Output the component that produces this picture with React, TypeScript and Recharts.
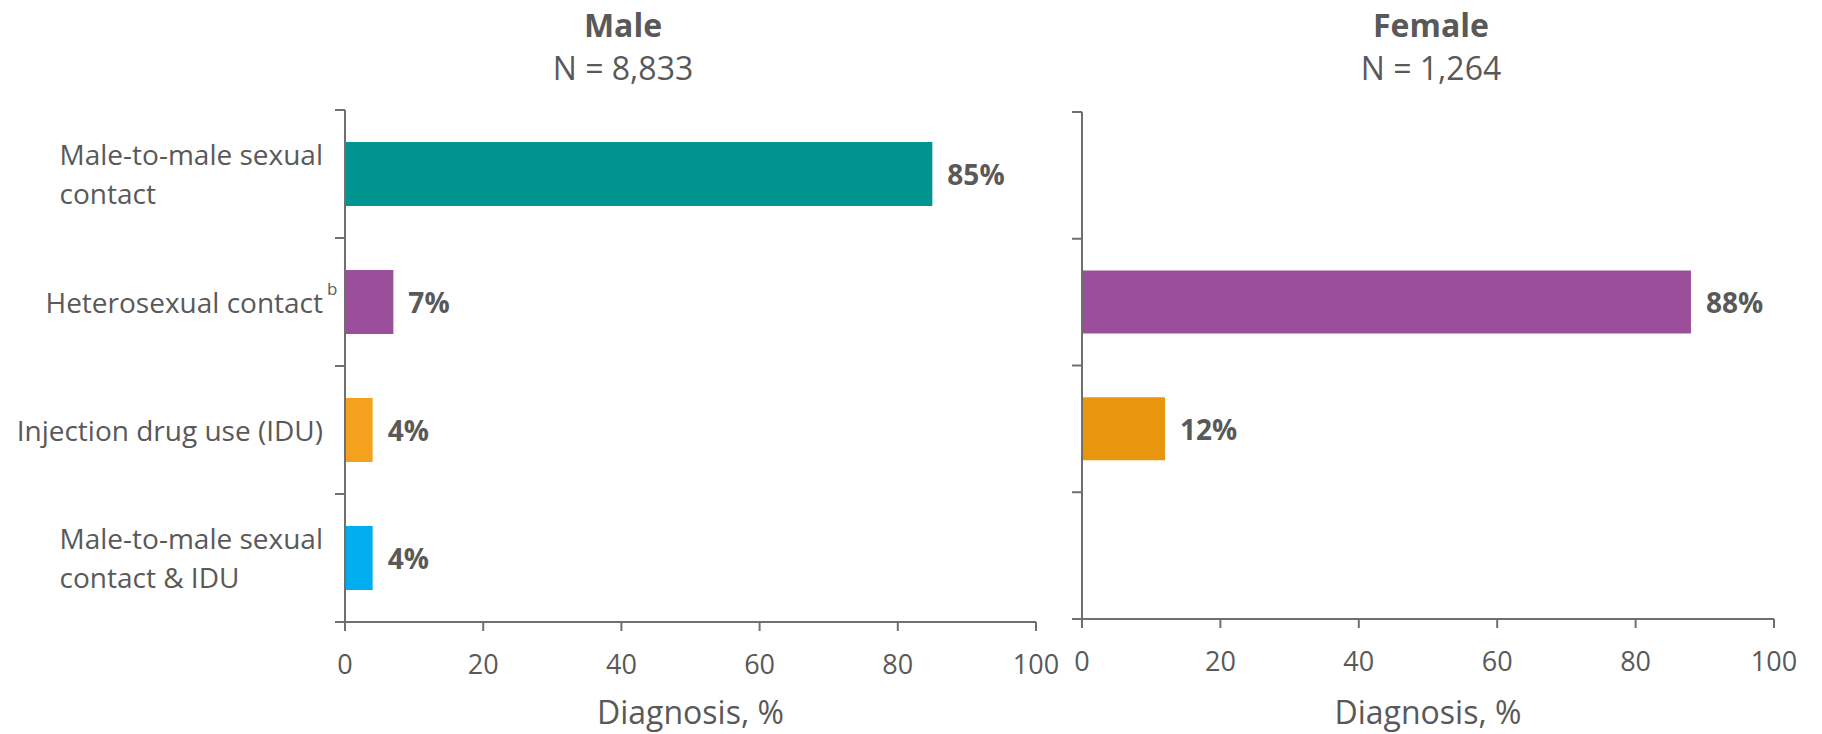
import React from "react";
import {
  BarChart,
  Bar,
  XAxis,
  YAxis,
  Cell,
  LabelList,
  Label,
} from "recharts";

// transmission categories (line breaks as in the original)
const categories = [
  "Male-to-male sexual\ncontact",
  "Heterosexual contact",
  "Injection drug use (IDU)",
  "Male-to-male sexual\ncontact & IDU",
];
const footnotes = ["", "b", "", ""];

const maleValues = [85, 7, 4, 4];
const femaleValues = [0, 88, 12, 0];

const maleColors = ["#009490", "#9B4F9B", "#F4A11D", "#00AEEF"];
const femaleColors = ["#009490", "#9B4F9B", "#E8960E", "#00AEEF"];

const xTicks = [0, 20, 40, 60, 80, 100];

const maleData = categories.map((c, i) => ({ category: c, value: maleValues[i] }));
const femaleData = categories.map((c, i) => ({ category: c, value: femaleValues[i] }));

const FONT = "'Open Sans', sans-serif";
const TEXT = "#595959";
const AXIS = "#6f6f6f";
const TICK_SIZE = 10;
const TICK_MARGIN = 12;

function CategoryTick(props: any) {
  const { x, y, payload, index, showText, count } = props;
  const axisX = x + TICK_SIZE + TICK_MARGIN;
  const half = payload?.offset ?? 0;
  const lines = String(payload.value).split("\n");
  const note = footnotes[index];
  return (
    <g>
      <line x1={axisX - TICK_SIZE} x2={axisX} y1={y - half} y2={y - half} stroke={AXIS} strokeWidth={2} />
      {index === count - 1 && (
        <line x1={axisX - TICK_SIZE} x2={axisX} y1={y + half} y2={y + half} stroke={AXIS} strokeWidth={2} />
      )}
      {showText && (
        <foreignObject x={x - 340} y={y - 60} width={360} height={120}>
          <div
            style={{
              display: "flex",
              alignItems: "center",
              justifyContent: "flex-end",
              height: "100%",
              width: 340,
              fontFamily: FONT,
              fontSize: 28,
              color: TEXT,
            }}
          >
            <div style={{ textAlign: "left", lineHeight: "39px", whiteSpace: "nowrap" }}>
              {lines.map((l, i) => (
                <div key={i} style={{ position: "relative" }}>
                  {l}
                  {note && i === lines.length - 1 && (
                    <span
                      style={{
                        position: "absolute",
                        left: "100%",
                        marginLeft: 4,
                        top: -14,
                        fontSize: 17,
                      }}
                    >
                      {note}
                    </span>
                  )}
                </div>
              ))}
            </div>
          </div>
        </foreignObject>
      )}
    </g>
  );
}

function ValueLabel(props: any) {
  const { x, y, width, height, value } = props;
  if (!value) return null;
  return (
    <text
      x={x + width + 15}
      y={y + height / 2}
      dominantBaseline="central"
      fontFamily={FONT}
      fontSize={28}
      fontWeight="bold"
      fill={TEXT}
    >
      {value}%
    </text>
  );
}

function Panel({ data, colors, width, margin, yWidth, xHeight, showText }: any) {
  return (
    <BarChart
      width={width}
      height={734}
      data={data}
      layout="vertical"
      margin={margin}
      barCategoryGap="25%"
    >
      <XAxis
        type="number"
        domain={[0, 100]}
        ticks={xTicks}
        interval={0}
        height={xHeight}
        tickSize={9}
        tickMargin={24}
        axisLine={{ stroke: AXIS, strokeWidth: 2 }}
        tickLine={{ stroke: AXIS, strokeWidth: 2 }}
        tick={{ fill: TEXT, fontSize: 27, fontFamily: FONT }}
      >
        <Label
          value="Diagnosis, %"
          position="insideBottom"
          offset={10}
          fill={TEXT}
          fontSize={32}
          fontFamily={FONT}
        />
      </XAxis>
      <YAxis
        type="category"
        dataKey="category"
        width={yWidth}
        tickSize={TICK_SIZE}
        tickMargin={TICK_MARGIN}
        interval={0}
        tickLine={false}
        axisLine={{ stroke: AXIS, strokeWidth: 2 }}
        tick={<CategoryTick showText={showText} count={data.length} />}
      />
      <Bar dataKey="value" isAnimationActive={false}>
        {data.map((d: any, i: number) => (
          <Cell key={d.category} fill={colors[i]} />
        ))}
        <LabelList dataKey="value" content={<ValueLabel />} />
      </Bar>
    </BarChart>
  );
}

function Title({ center, name, n }: { center: number; name: string; n: string }) {
  return (
    <div
      style={{
        position: "absolute",
        left: center - 200,
        width: 400,
        top: 3,
        textAlign: "center",
        fontFamily: FONT,
        color: TEXT,
        fontSize: 32,
        lineHeight: "43px",
      }}
    >
      <div style={{ fontWeight: "bold" }}>{name}</div>
      <div>{n}</div>
    </div>
  );
}

export default function App() {
  return (
    <div style={{ position: "absolute", left: 0, top: 0, width: 1822, height: 734, background: "#fff" }}>
      <div style={{ position: "absolute", left: 0, top: 0 }}>
        <Panel
          data={maleData}
          colors={maleColors}
          width={1062}
          margin={{ top: 110, right: 26, bottom: 0, left: 0 }}
          yWidth={345}
          xHeight={112}
          showText
        />
      </div>
      <div style={{ position: "absolute", left: 1062, top: 0 }}>
        <Panel
          data={femaleData}
          colors={femaleColors}
          width={760}
          margin={{ top: 112, right: 48, bottom: 0, left: 0 }}
          yWidth={20}
          xHeight={115}
          showText={false}
        />
      </div>
      <Title center={623} name="Male" n="N = 8,833" />
      <Title center={1431} name="Female" n="N = 1,264" />
    </div>
  );
}
